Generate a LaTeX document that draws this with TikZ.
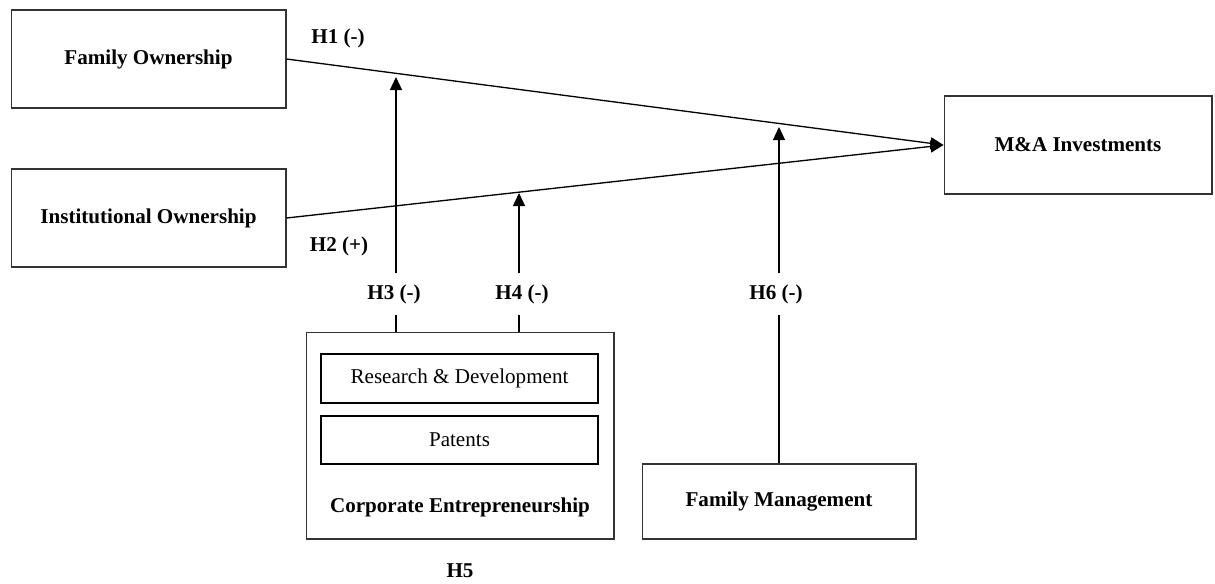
\documentclass[tikz,border=0pt]{standalone}
\usepackage{fontspec}
\setmainfont{Liberation Serif}
\usetikzlibrary{arrows.meta}

\tikzset{
  box/.style={draw=black!80, line width=0.6pt, inner sep=0pt,
    minimum width=5.5cm, minimum height=1.96cm,
    font=\fontsize{12}{14}\selectfont\bfseries},
  subbox/.style={draw, line width=0.7pt, inner sep=0pt,
    minimum width=5.54cm, minimum height=0.98cm,
    font=\fontsize{12}{14}\selectfont},
  hyp/.style={inner sep=0pt, minimum height=0.84cm,
    font=\fontsize{12}{14}\selectfont\bfseries},
  link/.style={line width=0.75pt},
  arr/.style={link, -{Triangle[length=0.26cm,width=0.24cm]}}
}

\begin{document}
\begin{tikzpicture}[x=0.02cm, y=-0.02cm]
\useasboundingbox (0,0) rectangle (1215,583);

% ownership, outcome and moderators
\node[box] (famown) at (148.5,59) {Family Ownership};
\node[box] (instown) at (148.5,218) {Institutional Ownership};
\node[box, minimum width=5.36cm] (mna) at (1078,145) {M\&A Investments};
\node[box, minimum width=6.16cm, minimum height=4.14cm] (corpent) at (460,435.5) {};
\node[subbox] (rnd) at (459.5,378.5) {Research \& Development};
\node[subbox, minimum height=0.96cm] (patents) at (459.5,440) {Patents};
\node[font=\fontsize{12}{14}\selectfont\bfseries] (cename) at (460,507) {Corporate Entrepreneurship};
\node[box, minimum width=5.48cm, minimum height=1.5cm] (fammgmt) at (779,501.5) {Family Management};

% direct effects
\draw[arr] (famown.east) -- (mna.west);
\draw[arr] (instown.east) -- (mna.west);
\node[hyp] (h1) at (338,38) {H1 (-)};
\node[hyp] (h2) at (339,246) {H2 (+)};

% moderating effects
\node[hyp] (h3) at (394,294) {H3 (-)};
\node[hyp] (h4) at (522,294) {H4 (-)};
\node[hyp] (h6) at (776,294) {H6 (-)};
\node[hyp] (h5) at (460,571) {H5};
\coordinate (h3tip) at (396,77);
\coordinate (h4tip) at (519,193);
\coordinate (h6tip) at (779,127);

\draw[arr] (h3.north -| h3tip) -- (h3tip);
\draw[link] (h3.south -| h3tip) -- (corpent.north -| h3tip);
\draw[arr] (h4.north -| h4tip) -- (h4tip);
\draw[link] (h4.south -| h4tip) -- (corpent.north -| h4tip);
\draw[arr] (h6.north -| h6tip) -- (h6tip);
\draw[link] (h6.south -| h6tip) -- (fammgmt.north);
\end{tikzpicture}
\end{document}
